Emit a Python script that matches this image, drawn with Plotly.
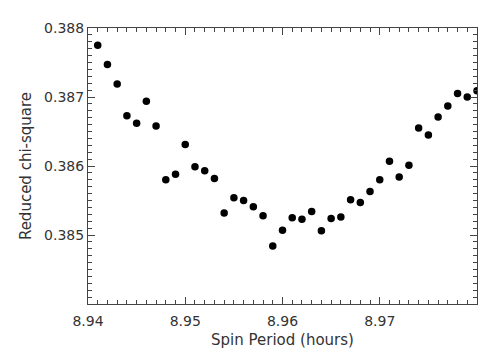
import plotly.graph_objects as go

# spin period grid (hours) and reduced chi-square values
period = [
    8.941, 8.942, 8.943, 8.944, 8.945, 8.946, 8.947, 8.948, 8.949, 8.950,
    8.951, 8.952, 8.953, 8.954, 8.955, 8.956, 8.957, 8.958, 8.959, 8.960,
    8.961, 8.962, 8.963, 8.964, 8.965, 8.966, 8.967, 8.968, 8.969, 8.970,
    8.971, 8.972, 8.973, 8.974, 8.975, 8.976, 8.977, 8.978, 8.979, 8.980,
]
chi2 = [
    0.38775, 0.38747, 0.38719, 0.38673, 0.38662, 0.38694, 0.38658, 0.38580, 0.38588, 0.38631,
    0.38599, 0.38593, 0.38582, 0.38532, 0.38554, 0.38550, 0.38541, 0.38528, 0.38484, 0.38507,
    0.38525, 0.38523, 0.38534, 0.38506, 0.38524, 0.38526, 0.38551, 0.38547, 0.38563, 0.38580,
    0.38607, 0.38584, 0.38601, 0.38655, 0.38645, 0.38671, 0.38687, 0.38705, 0.38700, 0.38709,
]
x_ticks = [8.94, 8.95, 8.96, 8.97]
y_ticks = [0.385, 0.386, 0.387, 0.388]

AXIS_COLOR = "#444444"
TICK_FONT = {"family": "DejaVu Sans, sans-serif", "size": 14, "color": "#333333"}
TITLE_FONT = {"family": "DejaVu Sans, sans-serif", "size": 15, "color": "#333333"}

fig = go.Figure(
    data=[
        go.Scatter(
            x=period,
            y=chi2,
            mode="markers",
            marker={"size": 7.5, "color": "black"},
            cliponaxis=True,
        )
    ]
)

axis_common = dict(
    showgrid=False,
    zeroline=False,
    showline=True,
    linecolor=AXIS_COLOR,
    linewidth=1,
    mirror="ticks",
    ticks="inside",
    tickcolor=AXIS_COLOR,
    ticklen=7,
    tickwidth=1,
    tickfont=TICK_FONT,
)

fig.update_xaxes(
    **axis_common,
    range=[8.94, 8.98],
    tickvals=x_ticks,
    tickformat=".2f",
    ticklabelstandoff=4,
    title={"text": "Spin Period (hours)", "font": TITLE_FONT, "standoff": 6},
    minor={"tick0": 8.94, "dtick": 0.001, "ticks": "inside", "ticklen": 4, "tickcolor": AXIS_COLOR},
)
fig.update_yaxes(
    **axis_common,
    range=[0.384, 0.388],
    tickvals=y_ticks,
    tickformat=".3f",
    title={"text": "Reduced chi-square", "font": TITLE_FONT, "standoff": 8},
    minor={"tick0": 0.384, "dtick": 0.0001, "ticks": "inside", "ticklen": 4, "tickcolor": AXIS_COLOR},
)

# the page body adds ~8px offset, so margins are shifted to land the plot box in place
fig.update_layout(
    width=504,
    height=360,
    autosize=False,
    showlegend=False,
    plot_bgcolor="white",
    paper_bgcolor="white",
    margin={"l": 80, "r": 35, "t": 20, "b": 64},
    font=TICK_FONT,
)

fig.write_html("out.html")
